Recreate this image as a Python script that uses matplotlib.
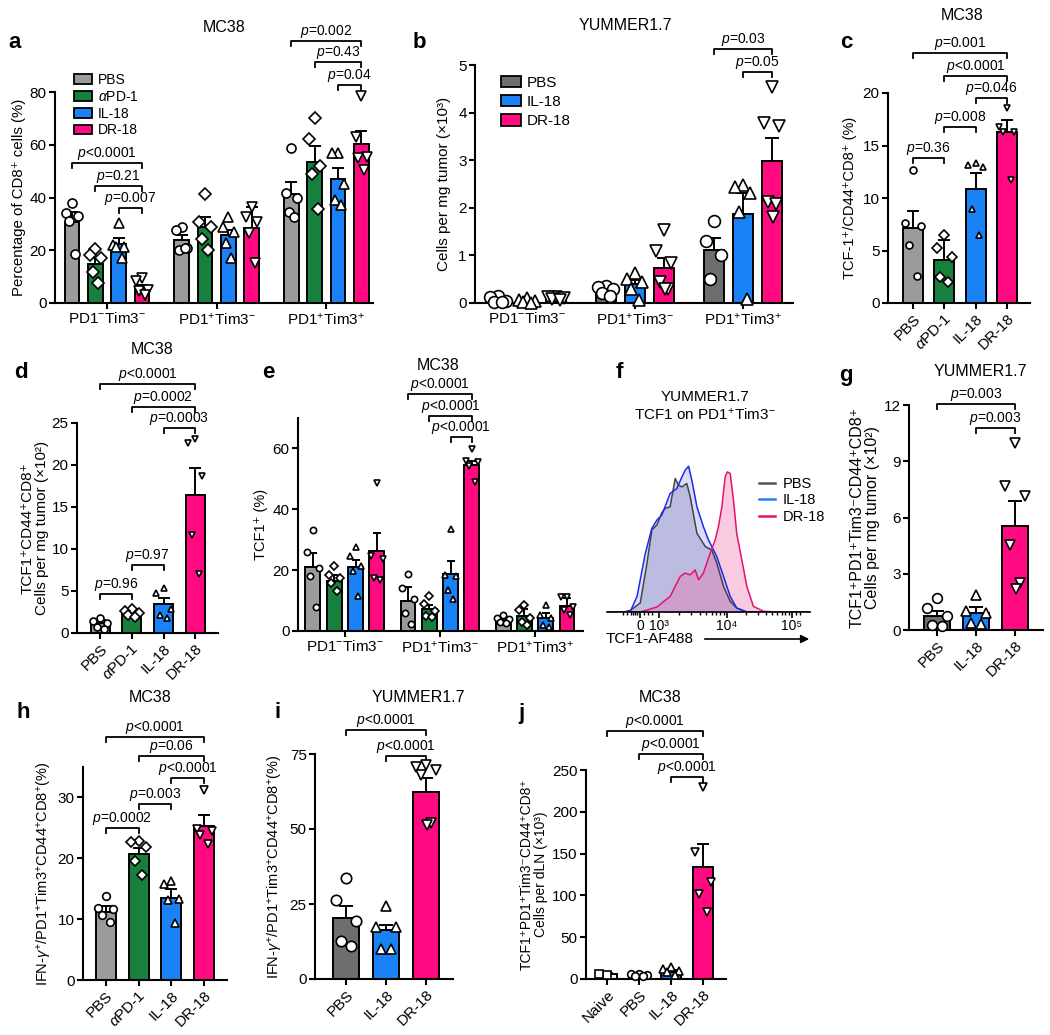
import numpy as np
import matplotlib
matplotlib.use('Agg')
import matplotlib.pyplot as plt
from matplotlib.patches import Patch, FancyArrowPatch
from matplotlib.lines import Line2D

plt.rcParams['font.family'] = ['Liberation Sans', 'DejaVu Sans']
plt.rcParams['mathtext.fontset'] = 'custom'
plt.rcParams['mathtext.rm'] = 'Liberation Sans'
plt.rcParams['mathtext.it'] = 'Liberation Sans:italic'
plt.rcParams['axes.linewidth'] = 1.5

# colours
GRAY = '#9b9b9b'
DGRAY = '#6e6e6e'
GREEN = '#17803d'
BLUE = '#1a82f5'
PINK = '#ff0a80'

# ---------------- data ----------------
grp4 = ['PBS', r'$\alpha$PD-1', 'IL-18', 'DR-18']
grp3 = ['PBS', 'IL-18', 'DR-18']
grp_j = ['Naive', 'PBS', 'IL-18', 'DR-18']
subsets = [r'PD1$^{-}$Tim3$^{-}$', r'PD1$^{+}$Tim3$^{-}$', r'PD1$^{+}$Tim3$^{+}$']

# a  MC38, % of CD8+ cells  [subset][treatment]
a_mean = [[30.9, 14.9, 22.3, 5.8], [23.7, 28.7, 25.8, 28.3], [41.2, 53.3, 46.9, 60.1]]
a_sem = [[3.5, 2.3, 2.5, 1.1], [2.0, 4.0, 1.9, 8.2], [4.8, 6.1, 4.1, 5.0]]
a_pts = [[[38, 34, 33, 31, 18.5], [20.4, 18.3, 17, 11.7, 7.6], [30.2, 22, 21.4, 21.4, 17], [9.4, 8.2, 5, 4.4, 3]],
         [[29, 27.7, 20.8, 20.1, 20.8], [41.3, 30.9, 29, 24.2, 20.1], [32.7, 29, 27, 22.7, 17], [36.3, 32.7, 30.9, 26.4, 15.1]],
         [[58.6, 41.8, 39.9, 34.6, 32.7], [70.2, 62, 51.9, 48.9, 35.5], [56.9, 56.9, 45, 39, 37.2], [78.5, 63, 55.4, 55, 50.4]]]

# b  YUMMER1.7, cells per mg tumor (x10^3)
b_mean = [[0.06, 0.04, 0.1], [0.27, 0.39, 0.74], [1.12, 1.87, 2.99]]
b_sem = [[0.03, 0.02, 0.02], [0.04, 0.1, 0.2], [0.25, 0.45, 0.48]]
b_pts = [[[0.15, 0.12, 0.05, 0.02, 0.02], [0.1, 0.06, 0.04, 0.02, 0.0], [0.13, 0.12, 0.1, 0.08, 0.06]],
         [[0.35, 0.33, 0.3, 0.2, 0.15], [0.62, 0.5, 0.45, 0.3, 0.06], [1.53, 1.1, 0.85, 0.45, 0.3, 0.3]],
         [[1.73, 1.3, 1.0, 0.5], [2.48, 2.44, 2.31, 1.91, 0.09], [4.53, 3.79, 3.72, 2.12, 2.09, 1.81]]]

# c  TCF-1+/CD44+CD8+ (%)
c_mean = [7.1, 4.1, 10.9, 16.3]
c_sem = [1.66, 1.9, 1.5, 1.1]
c_pts = [[12.7, 7.6, 7.3, 5.5, 2.6], [6.5, 5.2, 4.4, 2.5, 2.0], [13.3, 13.1, 13.0, 9.0, 6.5], [18.6, 16.8, 16.3, 16.3, 11.7]]

# d  TCF1+CD44+CD8+ cells per mg tumor (x10^2)
d_mean = [1.2, 2.6, 3.4, 16.4]
d_sem = [0.3, 0.2, 0.8, 3.3]
d_pts = [[1.8, 1.4, 1.2, 0.7, 0.5], [2.8, 2.6, 2.4, 2.1, 1.9], [5.4, 4.8, 2.8, 2.2, 1.8], [23.1, 22.6, 18.7, 11.7, 7.0]]

# e  TCF1+ (%)
e_mean = [[20.9, 16.5, 20.9, 26.2], [9.7, 7.2, 18.7, 54.5], [3.6, 5.0, 4.2, 8.3]]
e_sem = [[4.8, 2.0, 2.5, 6.1], [4.9, 1.4, 4.4, 1.4], [0.6, 2.2, 1.6, 2.5]]
e_pts = [[[33.1, 26, 20.7, 18, 8], [21.3, 18.5, 17.4, 15.7, 13], [27.5, 24.6, 21.5, 19.6, 11.6], [48.5, 24.6, 23.5, 17.4, 16.8]],
         [[18.7, 14.1, 10.5, 5.8, 2.3], [11.5, 9, 6.5, 5, 4.5], [33.6, 18.5, 18, 13.5, 10.5], [59.8, 55.9, 55.6, 54.3, 49]],
         [[5.3, 4.4, 3.9, 3.1, 2.5], [8.6, 6.9, 4.2, 3.1, 2.0], [8.6, 5.3, 4.2, 2.0, 1.4], [11.3, 11.1, 8, 6.9, 5.3]]]

# f  TCF1 histograms (display channel 0-100, % of max)
f_pbs_x = [0, 8.2, 11.5, 16.4, 19.7, 22.1, 24.6, 27.0, 28.7, 31.1, 33.6, 35.2, 36.9, 39.3, 41.0, 44.3, 48.4, 51.6, 54.1, 57.4, 60.7, 63.9, 68.9, 100]
f_pbs_y = [0, 0, 1.1, 6.2, 33.5, 56.3, 59.7, 68.1, 71.1, 72.2, 91.6, 87.0, 85.8, 88.2, 79.0, 54.0, 44.9, 42.6, 33.5, 17.5, 7.3, 2.7, 0, 0]
f_il_x = [0, 8.2, 11.5, 14.8, 18.9, 22.1, 24.6, 27.0, 31.1, 34.4, 36.9, 38.5, 40.2, 41.8, 44.3, 47.5, 50.0, 54.1, 57.4, 60.7, 63.9, 68.9, 100]
f_il_y = [0, 0, 0.5, 10.7, 40.3, 57.4, 63.1, 66.5, 81.3, 84.7, 92.7, 97.3, 100, 90.4, 72.2, 58.5, 49.4, 38.0, 24.4, 10.7, 2.7, 0, 0]
f_dr_x = [0, 16.4, 24.6, 31.1, 36.1, 38.5, 41.0, 43.4, 45.1, 47.5, 50.8, 53.3, 54.9, 56.6, 58.2, 59.3, 60.7, 62.3, 63.9, 66.4, 68.9, 72.1, 77.0, 83.6, 100]
f_dr_y = [0, 0, 3.4, 10.7, 24.4, 26.7, 25.5, 28.9, 22.1, 26.7, 40.3, 49.4, 58.5, 72.2, 92.7, 96.1, 95.0, 76.8, 54.0, 35.8, 17.5, 3.9, 0.5, 0, 0]
f_tick_pos = [16.4, 25.4, 59.0, 91.0]
f_tick_lab = ['0', '10³', '10⁴', '10⁵']

# g  TCF1+PD1+Tim3-CD44+CD8+ cells per mg tumor (x10^2)
g_mean = [0.75, 0.89, 5.56]
g_sem = [0.25, 0.35, 1.32]
g_pts = [[1.69, 1.2, 0.75, 0.27, 0.2], [1.87, 1.0, 0.9, 0.4, 0.3], [9.96, 7.68, 7.16, 4.53, 2.49, 2.17]]

# h  MC38 IFN-g+ (%)
h_mean = [11.1, 20.75, 13.5, 25.3]
h_sem = [1.0, 1.0, 1.4, 1.8]
h_pts = [[13.8, 11.8, 11.6, 10.7, 9.6], [22.8, 22.7, 21.8, 19.5, 17.3], [16.2, 15.8, 13.3, 13.2, 9.4], [31.3, 24.8, 24.5, 23.9, 22.3]]

# i  YUMMER1.7 IFN-g+ (%)
i_mean = [20.3, 16.5, 62.5]
i_sem = [4.1, 1.5, 4.5]
i_pts = [[33.7, 26.4, 19.2, 12.6, 10.9], [24.5, 17.5, 17.5, 10, 10], [71.4, 70.7, 69.8, 68, 52, 51.4]]

# j  cells per dLN (x10^3)
j_mean = [6, 4.5, 8.5, 133.5]
j_sem = [1, 0.8, 2, 28]
j_pts = [[5, 6.5], [6.5, 5.5, 4.5, 3.5, 3], [14, 12.5, 10, 8, 5], [230, 152.5, 116.6, 101.5, 79.6]]

# ---------------- helpers ----------------
W, H = 1050, 1035
fig = plt.figure(figsize=(W / 100, H / 100), dpi=100)
TFS = 11   # tick label size
PFS = 10   # p-value size


def make_ax(l, r, t, b):
    return fig.add_axes([l / W, 1 - b / H, (r - l) / W, (b - t) / H])


def style(ax, fs=TFS):
    ax.spines[['top', 'right']].set_visible(False)
    ax.tick_params(width=1.5, length=4, labelsize=fs, pad=2)


def spread(n, w):
    base = np.array([0, -1, 1, -0.5, 0.5, 0.15])
    return base[:n] * 0.38 * w


def draw_bars(ax, xs, means, sems, pts, colors, marks, ms, w, cap=4):
    for x, m, s, p, c, mk in zip(xs, means, sems, pts, colors, marks):
        ax.bar(x, m, w, color=c, edgecolor='k', linewidth=1.4, zorder=2)
        ax.errorbar(x, m, yerr=[[0], [s]], fmt='none', ecolor='k', elinewidth=1.4,
                    capsize=cap, capthick=1.4, zorder=3)
        ax.plot(x + spread(len(p), w), p, ls='none', marker=mk, mfc='white', mec='k',
                ms=ms, mew=1.2, zorder=4, clip_on=False)


def bracket(ax, x1, x2, y, txt, leg_px=5, fs=PFS):
    y0, y1 = ax.get_ylim()
    hpx = ax.get_position().height * H
    leg = leg_px * (y1 - y0) / hpx
    ax.plot([x1, x1, x2, x2], [y - leg, y, y, y - leg], color='k', lw=1.3, clip_on=False)
    ax.text((x1 + x2) / 2, y + 1.0 * (y1 - y0) / hpx, txt, ha='center', va='bottom', fontsize=fs)


def ptxt(op, v):
    return r'$p$' + op + v


def letter(x, y, s):
    fig.text(x / W, 1 - y / H, s, fontsize=16, fontweight='bold', ha='left', va='center')


def title(x, y, s, fs=11.5):
    fig.text(x / W, 1 - y / H, s, fontsize=fs, ha='center', va='center')


col4 = [GRAY, GREEN, BLUE, PINK]
mk4 = ['o', 'D', '^', 'v']

# ---------------- a ----------------
ax = make_ax(55, 373, 92, 303)
style(ax)
gap_a = 4.7
for g in range(3):
    xs = g * gap_a + np.array([-1.5, -0.5, 0.5, 1.5])
    draw_bars(ax, xs, a_mean[g], a_sem[g], a_pts[g], col4, mk4, 6.5, 0.64)
ax.set_xlim(-2.23, 11.4)
ax.set_ylim(0, 80)
ax.set_yticks([0, 20, 40, 60, 80])
ax.set_xticks([0, gap_a, 2 * gap_a])
ax.set_xticklabels(subsets)
ax.set_ylabel('Percentage of CD8⁺ cells (%)', fontsize=10.8, labelpad=3)
bracket(ax, -1.5, 1.5, 53.1, ptxt('<', '0.0001'))
bracket(ax, -0.5, 1.5, 44.3, ptxt('=', '0.21'))
bracket(ax, 0.5, 1.5, 35.9, ptxt('=', '0.007'))
bracket(ax, 2 * gap_a - 1.5, 2 * gap_a + 1.5, 99.5, ptxt('=', '0.002'))
bracket(ax, 2 * gap_a - 0.5, 2 * gap_a + 1.5, 91.3, ptxt('=', '0.43'))
bracket(ax, 2 * gap_a + 0.5, 2 * gap_a + 1.5, 82.5, ptxt('=', '0.04'))
fig.legend([Patch(facecolor=c, edgecolor='k', linewidth=1.3) for c in col4], grp4,
           loc='upper left', bbox_to_anchor=(67 / W, 1 - 66 / H), frameon=False, fontsize=10,
           handlelength=1.3, handleheight=0.7, handletextpad=0.4, labelspacing=0.2, borderpad=0)
letter(8, 43, 'a')
title(224, 28, 'MC38')

# ---------------- b ----------------
ax = make_ax(475, 793, 65, 303)
style(ax)
col3b = [DGRAY, BLUE, PINK]
mk3 = ['o', '^', 'v']
gap_b = 3.72
for g in range(3):
    xs = g * gap_b + np.array([-1, 0, 1])
    draw_bars(ax, xs, b_mean[g], b_sem[g], b_pts[g], col3b, mk3, 8.5, 0.69, cap=5)
ax.set_xlim(-1.79, 9.17)
ax.set_ylim(0, 5)
ax.set_yticks(range(6))
ax.set_xticks([0, gap_b, 2 * gap_b])
ax.set_xticklabels(subsets)
ax.set_ylabel('Cells per mg tumor (×10³)', fontsize=11, labelpad=5)
bracket(ax, 2 * gap_b - 1, 2 * gap_b + 1, 5.33, ptxt('=', '0.03'))
bracket(ax, 2 * gap_b, 2 * gap_b + 1, 4.86, ptxt('=', '0.05'))
fig.legend([Patch(facecolor=c, edgecolor='k', linewidth=1.3) for c in col3b], grp3,
           loc='upper left', bbox_to_anchor=(493 / W, 1 - 68 / H), frameon=False, fontsize=11,
           handlelength=1.3, handleheight=0.75, handletextpad=0.4, labelspacing=0.35, borderpad=0)
letter(413, 43, 'b')
title(625, 25, 'YUMMER1.7')

# ---------------- c ----------------
ax = make_ax(888, 1030, 93, 303)
style(ax)
draw_bars(ax, np.arange(4), c_mean, c_sem, c_pts, col4, mk4, 5, 0.64)
ax.set_xlim(-0.8, 3.74)
ax.set_ylim(0, 20)
ax.set_yticks([0, 5, 10, 15, 20])
ax.set_xticks(range(4))
ax.set_xticklabels(grp4, rotation=45, ha='right', rotation_mode='anchor')
ax.set_ylabel('TCF-1⁺/CD44⁺CD8⁺ (%)', fontsize=10.5, labelpad=4)
bracket(ax, 0, 1, 13.8, ptxt('=', '0.36'))
bracket(ax, 1, 2, 16.8, ptxt('=', '0.008'))
bracket(ax, 2, 3, 19.5, ptxt('=', '0.046'))
bracket(ax, 1, 3, 21.6, ptxt('<', '0.0001'))
bracket(ax, 0, 3, 23.8, ptxt('=', '0.001'))
letter(840, 43, 'c')
title(962, 16, 'MC38')

# ---------------- d ----------------
ax = make_ax(77, 218, 423, 633)
style(ax)
draw_bars(ax, np.arange(4), d_mean, d_sem, d_pts, col4, mk4, 5, 0.6)
ax.set_xlim(-0.73, 3.72)
ax.set_ylim(0, 25)
ax.set_yticks([0, 5, 10, 15, 20, 25])
ax.set_xticks(range(4))
ax.set_xticklabels(grp4, rotation=45, ha='right', rotation_mode='anchor')
ax.set_ylabel('TCF1⁺CD44⁺CD8⁺\nCells per mg tumor (×10²)', fontsize=11, labelpad=2, linespacing=1.0)
bracket(ax, 0, 1, 4.7, ptxt('=', '0.96'))
bracket(ax, 1, 2, 8.1, ptxt('=', '0.97'))
bracket(ax, 2, 3, 24.4, ptxt('=', '0.0003'))
bracket(ax, 1, 3, 26.9, ptxt('=', '0.0002'))
bracket(ax, 0, 3, 29.7, ptxt('<', '0.0001'))
letter(14, 373, 'd')
title(152, 350, 'MC38')

# ---------------- e ----------------
ax = make_ax(298, 583, 418, 631)
style(ax)
gap_e = 4.46
for g in range(3):
    xs = g * gap_e + np.array([-1.5, -0.5, 0.5, 1.5])
    draw_bars(ax, xs, e_mean[g], e_sem[g], e_pts[g], col4, mk4, 4.5, 0.7, cap=3)
ax.set_xlim(-2.2, 11.17)
ax.set_ylim(0, 70)
ax.set_yticks([0, 20, 40, 60])
ax.set_xticks([0, gap_e, 2 * gap_e])
ax.set_xticklabels(subsets)
ax.set_ylabel('TCF1⁺ (%)', fontsize=10.5, labelpad=3)
bracket(ax, gap_e - 1.5, gap_e + 1.5, 78, ptxt('<', '0.0001'))
bracket(ax, gap_e - 0.5, gap_e + 1.5, 70.8, ptxt('<', '0.0001'))
bracket(ax, gap_e + 0.5, gap_e + 1.5, 63.7, ptxt('<', '0.0001'))
letter(262, 373, 'e')
title(438, 365, 'MC38')

# ---------------- f ----------------
ax = make_ax(607, 810, 440, 612)
for s in ['top', 'right', 'left']:
    ax.spines[s].set_visible(False)
ax.spines['bottom'].set_linewidth(1.2)
ax.fill_between(f_pbs_x, f_pbs_y, color='#9a9ab0', alpha=0.45, lw=0)
ax.fill_between(f_il_x, f_il_y, color='#8c8cf0', alpha=0.3, lw=0)
ax.fill_between(f_dr_x, f_dr_y, color='#f06aa8', alpha=0.35, lw=0)
ax.plot(f_pbs_x, f_pbs_y, color='#444444', lw=1.1)
ax.plot(f_il_x, f_il_y, color='#1a2cf0', lw=1.1)
ax.plot(f_dr_x, f_dr_y, color='#e8106e', lw=1.1)
ax.set_xlim(0, 100)
ax.set_ylim(0, 118)
ax.set_yticks([])
ax.set_xticks(f_tick_pos)
ax.set_xticklabels(f_tick_lab, fontsize=10)
minor = [8, 10, 12, 13, 14, 15, 18, 20, 22] + \
        [25.4 + 33.6 * np.log10(k) for k in range(2, 10)] + \
        [59 + 32 * np.log10(k) for k in range(2, 10)] + [93, 95]
ax.set_xticks(minor, minor=True)
ax.tick_params(axis='x', which='major', length=4, width=1.2, pad=1)
ax.tick_params(axis='x', which='minor', length=2.5, width=1.0)
ax.legend([Line2D([], [], color=c, lw=1.8) for c in ['#555555', '#1a82f5', '#e8106e']],
          ['PBS', 'IL-18', 'DR-18'], loc='upper left', bbox_to_anchor=(145 / 203, 1 - 30 / 172),
          frameon=False, fontsize=10.5, handlelength=1.1, handletextpad=0.5, labelspacing=0.15, borderpad=0)
fig.text(606 / W, 1 - 639 / H, 'TCF1-AF488', fontsize=11, ha='left', va='center')
fig.add_artist(FancyArrowPatch((702 / W, 1 - 639 / H), (812 / W, 1 - 639 / H),
               transform=fig.transFigure, arrowstyle='-|>', mutation_scale=12, color='k', lw=1.2))
letter(616, 372, 'f')
title(705, 397, 'YUMMER1.7', fs=11)
title(705, 415, r'TCF1 on PD1$^{+}$Tim3$^{-}$', fs=11)

# ---------------- g ----------------
ax = make_ax(909, 1043, 405, 630)
style(ax)
draw_bars(ax, np.arange(3), g_mean, g_sem, g_pts, col3b, mk3, 7, 0.69, cap=5)
ax.set_xlim(-0.72, 2.72)
ax.set_ylim(0, 12)
ax.set_yticks([0, 3, 6, 9, 12])
ax.set_xticks(range(3))
ax.set_xticklabels(grp3, rotation=45, ha='right', rotation_mode='anchor')
ax.set_ylabel('TCF1⁺PD1⁺Tim3⁻CD44⁺CD8⁺\nCells per mg tumor (×10²)', fontsize=11.5, labelpad=3, linespacing=1.0)
bracket(ax, 0, 2, 12.05, ptxt('=', '0.003'))
bracket(ax, 1, 2, 10.76, ptxt('=', '0.003'))
letter(839, 375, 'g')
title(980, 372, 'YUMMER1.7')

# ---------------- h ----------------
ylab_ifn = r'IFN-$\gamma^{+}$/PD1$^{+}$Tim3$^{+}$CD44$^{+}$CD8$^{+}$(%)'
ax = make_ax(83, 227, 767, 980)
style(ax)
draw_bars(ax, np.arange(4), h_mean, h_sem, h_pts, col4, mk4, 5.5, 0.61)
ax.set_xlim(-0.7, 3.7)
ax.set_ylim(0, 35)
ax.set_yticks([0, 10, 20, 30])
ax.set_xticks(range(4))
ax.set_xticklabels(grp4, rotation=45, ha='right', rotation_mode='anchor')
ax.set_ylabel(ylab_ifn, fontsize=10.5, labelpad=3)
bracket(ax, 0, 1, 24.9, ptxt('=', '0.0002'))
bracket(ax, 1, 2, 28.9, ptxt('=', '0.003'))
bracket(ax, 2, 3, 33.2, ptxt('<', '0.0001'))
bracket(ax, 1, 3, 36.8, ptxt('=', '0.06'))
bracket(ax, 0, 3, 40.0, ptxt('<', '0.0001'))
letter(16, 713, 'h')
title(150, 697, 'MC38')

# ---------------- i ----------------
ax = make_ax(315, 453, 754, 979)
style(ax)
draw_bars(ax, np.arange(3), i_mean, i_sem, i_pts, col3b, mk3, 7.5, 0.67, cap=5)
ax.set_xlim(-0.78, 2.68)
ax.set_ylim(0, 75)
ax.set_yticks([0, 25, 50, 75])
ax.set_xticks(range(3))
ax.set_xticklabels(grp3, rotation=45, ha='right', rotation_mode='anchor')
ax.set_ylabel(ylab_ifn, fontsize=10.5, labelpad=3)
bracket(ax, 0, 2, 83.1, ptxt('<', '0.0001'))
bracket(ax, 1, 2, 74.2, ptxt('<', '0.0001'))
letter(275, 713, 'i')
title(418, 697, 'YUMMER1.7')

# ---------------- j ----------------
ax = make_ax(586, 726, 770, 979)
style(ax)
draw_bars(ax, np.arange(4), j_mean, j_sem, j_pts, ['white', GRAY, BLUE, PINK], ['s', 'o', '^', 'v'], 5.5, 0.63)
ax.set_xlim(-0.66, 3.72)
ax.set_ylim(0, 250)
ax.set_yticks([0, 50, 100, 150, 200, 250])
ax.set_xticks(range(4))
ax.set_xticklabels(grp_j, rotation=45, ha='right', rotation_mode='anchor')
ax.set_ylabel('TCF1⁺PD1⁺Tim3⁻CD44⁺CD8⁺\nCells per dLN (×10³)', fontsize=10, labelpad=3, linespacing=1.0)
bracket(ax, 0, 3, 296.6, ptxt('<', '0.0001'))
bracket(ax, 1, 3, 269, ptxt('<', '0.0001'))
bracket(ax, 2, 3, 242, ptxt('<', '0.0001'))
letter(518, 713, 'j')
title(660, 697, 'MC38')

fig.savefig('out.png', dpi=100)
